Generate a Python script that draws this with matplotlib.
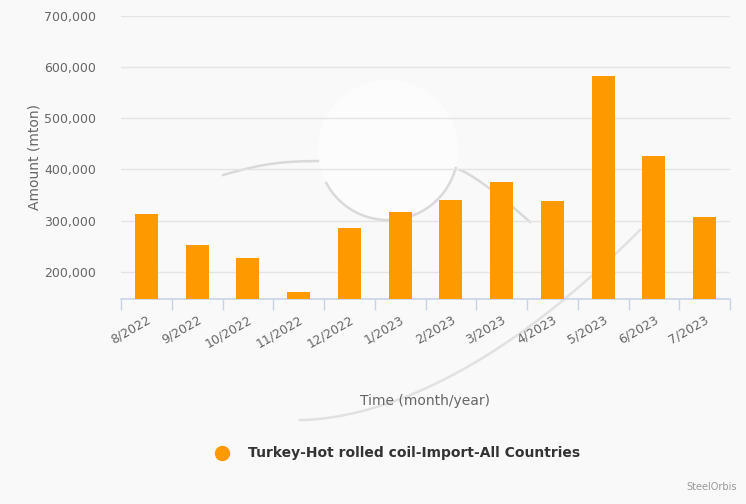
import matplotlib
matplotlib.use("Agg")
import matplotlib.pyplot as plt
import numpy as np
from matplotlib.patches import Ellipse

categories = ["8/2022", "9/2022", "10/2022", "11/2022", "12/2022", "1/2023",
              "2/2023", "3/2023", "4/2023", "5/2023", "6/2023", "7/2023"]
values = [312000, 252000, 228000, 161000, 286000, 316000,
          341000, 375000, 339000, 582000, 427000, 308000]
yticks = [200000, 300000, 400000, 500000, 600000, 700000]
series_name = "Turkey-Hot rolled coil-Import-All Countries"

BG = "#f9f9f9"
ORANGE = "#ff9900"
W, H = 746, 504

fig = plt.figure(figsize=(7.46, 5.04), dpi=100, facecolor=BG)
ax = fig.add_axes([121/W, 1-299/H, (730-121)/W, (299-15.7)/H])
ax.set_facecolor("none")

def px(xs, ys):
    return np.asarray(xs)/W, 1-np.asarray(ys)/H

# faint watermark swirl (decorative)
cx, cy, r = 388, 150, 70
ax.add_patch(Ellipse(px(cx, cy), 2*r/W, 2*r/H, transform=fig.transFigure,
                     facecolor="white", edgecolor="none", alpha=0.6, zorder=1))
wm = dict(color="#d4d4d4", lw=1.8, alpha=0.85, transform=fig.transFigure, zorder=1)
th = np.deg2rad(np.linspace(15, 152, 100))
ax.add_line(plt.Line2D(*px(cx + r*np.cos(th), cy + r*np.sin(th)), **wm))
t = np.linspace(0, 1, 60)
ax.add_line(plt.Line2D(*px(223 + 95*t, 175 - 14*t - 4*np.sin(np.pi*t)), **wm))
ax.add_line(plt.Line2D(*px(460 + 70*t, 170 + 52*t**1.2), **wm))
x2 = 300 + 340*t
y2 = 420 - 190*t**1.8
fig.lines.append(plt.Line2D(*px(x2, y2), color="#dcdcdc", lw=1.8, alpha=0.8,
                            transform=fig.transFigure, zorder=-1))

x = np.arange(len(categories))
ax.bar(x, values, width=0.45, color=ORANGE, zorder=3)

ax.set_xlim(-0.5, len(categories)-0.5)
ax.set_ylim(147000, 700000)
ax.set_yticks(yticks)
ax.set_yticklabels([f"{v:,}" for v in yticks])
ax.yaxis.grid(True, color="#e4e4e4", lw=1, zorder=0)
ax.tick_params(axis="y", length=0, pad=18, labelsize=9, labelcolor="#666666")

ax.set_xticks(x)
ax.set_xticklabels(categories, rotation=30, ha="right", rotation_mode="anchor")
ax.set_xticks(np.arange(-0.5, len(categories)), minor=True)
ax.tick_params(axis="x", which="major", length=0, pad=10, labelsize=9, labelcolor="#666666")
ax.tick_params(axis="x", which="minor", length=8, color="#c8d4e6", width=1)
for s in ["top", "right", "left"]:
    ax.spines[s].set_visible(False)
ax.spines["bottom"].set_color("#c8d4e6")
ax.spines["bottom"].set_linewidth(1.2)

fig.text(35/W, 1-157/H, "Amount (mton)", rotation=90, ha="center", va="center",
         fontsize=10, color="#666666")
fig.text(425/W, 1-401/H, "Time (month/year)", ha="center", va="center",
         fontsize=10, color="#666666")

fig.lines.append(plt.Line2D([222/W], [1-453/H], marker="o", markersize=10,
                            color=ORANGE, transform=fig.transFigure))
fig.text(248/W, 1-453/H, series_name, ha="left", va="center",
         fontsize=10, fontweight="bold", color="#333333")
fig.text(737/W, 1-487/H, "SteelOrbis", ha="right", va="center",
         fontsize=7, color="#999999")

fig.savefig("out.png", dpi=100, facecolor=BG)
